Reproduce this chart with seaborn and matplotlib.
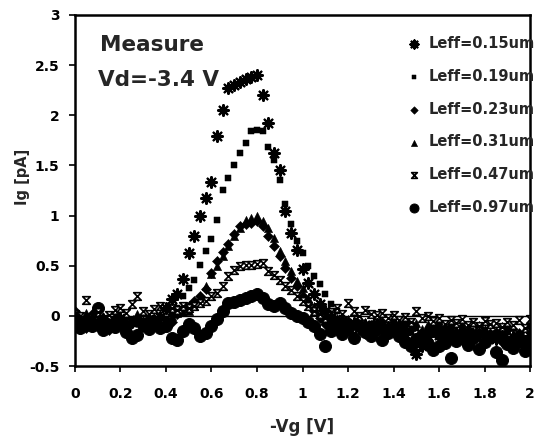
import numpy as np
import pandas as pd
import matplotlib
matplotlib.use("Agg")
import matplotlib.pyplot as plt
from matplotlib.path import Path
import seaborn as sns

# Gate voltage sweep (-Vg, V)
vg = [0.000, 0.025, 0.050, 0.075, 0.100, 0.125, 0.150, 0.175, 0.200, 0.225,
      0.250, 0.275, 0.300, 0.325, 0.350, 0.375, 0.400, 0.425, 0.450, 0.475,
      0.500, 0.525, 0.550, 0.575, 0.600, 0.625, 0.650, 0.675, 0.700, 0.725,
      0.750, 0.775, 0.800, 0.825, 0.850, 0.875, 0.900, 0.925, 0.950, 0.975,
      1.000, 1.025, 1.050, 1.075, 1.100, 1.125, 1.150, 1.175, 1.200, 1.225,
      1.250, 1.275, 1.300, 1.325, 1.350, 1.375, 1.400, 1.425, 1.450, 1.475,
      1.500, 1.525, 1.550, 1.575, 1.600, 1.625, 1.650, 1.675, 1.700, 1.725,
      1.750, 1.775, 1.800, 1.825, 1.850, 1.875, 1.900, 1.925, 1.950, 1.975,
      2.000]

# Measured gate current Ig (pA) for each effective channel length
ig_015 = [-0.02, -0.06, -0.08, -0.04, -0.07, -0.03, -0.09, -0.05, -0.02, -0.08,
          -0.06, -0.04, -0.07, -0.03, -0.05, -0.01, 0.08,
          0.17, 0.22, 0.37, 0.63, 0.80, 1.00, 1.18, 1.33, 1.79, 2.05, 2.27, 2.30,
          2.33, 2.36, 2.38, 2.40, 2.20, 1.92, 1.62, 1.45, 1.05, 0.83, 0.66, 0.47,
          0.33, 0.22, 0.12, 0.05,
          -0.02, -0.08, -0.05, -0.10, -0.07, -0.12, -0.09, -0.13, -0.08, -0.14,
          -0.11, -0.15, -0.10, -0.18, -0.28, -0.38, -0.30, -0.20, -0.15, -0.19,
          -0.14, -0.20, -0.17, -0.22, -0.16, -0.21, -0.18, -0.24, -0.19, -0.23,
          -0.20, -0.26, -0.21, -0.25, -0.30, -0.20]

ig_019 = [-0.05, -0.10, -0.04, -0.08, -0.12, -0.06, -0.03, -0.09, -0.07, -0.11,
          -0.04, -0.08, -0.06, -0.10, -0.05, -0.02, -0.07, 0.02, 0.08,
          0.20, 0.28, 0.36, 0.51, 0.65, 0.77, 0.96, 1.26, 1.37, 1.50, 1.62, 1.72,
          1.84, 1.85, 1.84, 1.68, 1.55, 1.35, 1.12, 0.92, 0.75, 0.63, 0.50, 0.40,
          0.32, 0.22, 0.12, 0.05,
          -0.02, -0.06, -0.10, -0.05, -0.11, -0.08, -0.14, -0.09, -0.12, -0.07,
          -0.13, -0.10, -0.16, -0.12, -0.18, -0.14, -0.17, -0.12, -0.20, -0.15,
          -0.18, -0.13, -0.21, -0.17, -0.19, -0.15, -0.22, -0.18, -0.20, -0.16,
          -0.23, -0.19, -0.25, -0.18]

ig_023 = [0.05, -0.08, -0.12, 0.02, -0.10, -0.06, -0.14, -0.04, -0.09, -0.13,
          -0.07, -0.02, -0.11, -0.05, -0.08, -0.12, -0.03, -0.06,
          0.02, 0.08, 0.10, 0.15, 0.20, 0.27, 0.43, 0.55, 0.64, 0.72, 0.82, 0.90,
          0.92, 0.93, 0.95, 0.90, 0.80, 0.70, 0.60, 0.48, 0.38, 0.30, 0.20, 0.12,
          0.05,
          -0.02, -0.08, -0.13, -0.05, -0.10, -0.15, -0.07, -0.12, -0.18, -0.09,
          -0.14, -0.06, -0.16, -0.11, -0.20, -0.13, -0.08, -0.22, -0.25, -0.17,
          -0.12, -0.21, -0.15, -0.10, -0.19, -0.24, -0.14, -0.20, -0.11, -0.18,
          -0.23, -0.16, -0.26, -0.13, -0.21, -0.17, -0.27, -0.10]

ig_031 = [0.00, -0.04, 0.03, -0.07, -0.02, -0.10, -0.05, 0.01, -0.08, -0.03,
          -0.06, 0.02, -0.09, -0.04, -0.01, -0.07, -0.02, 0.00, 0.03, 0.04,
          0.05, 0.10, 0.18, 0.30, 0.42, 0.50, 0.60, 0.70, 0.80, 0.88, 0.96, 0.98,
          1.00, 0.95, 0.88, 0.78, 0.65, 0.55, 0.45, 0.35, 0.28, 0.18, 0.10, 0.05,
          0.00, -0.05, -0.02, -0.08, -0.03, -0.07, -0.01, -0.06, -0.10, -0.04,
          -0.08, -0.12, -0.05, -0.09, -0.03, -0.11, -0.07, -0.13, -0.08, -0.10,
          -0.05, -0.12, -0.09, -0.14, -0.07, -0.11, -0.15, -0.09, -0.13, -0.08,
          -0.16, -0.10, -0.14, -0.11, -0.18, -0.12, -0.05]

ig_047 = [0.02, 0.00, 0.16, -0.02, 0.04, -0.03, 0.01, 0.06, 0.08, 0.03,
          0.12, 0.20, 0.05, 0.02, 0.07, 0.10, 0.04, 0.08, 0.06, 0.10,
          0.08, 0.10, 0.13, 0.15, 0.20, 0.23, 0.30, 0.40, 0.46, 0.50, 0.51, 0.51,
          0.52, 0.53, 0.45, 0.41, 0.36, 0.30, 0.26, 0.20, 0.15, 0.10, 0.05,
          0.02, -0.02, 0.04, 0.08, 0.02, 0.13, 0.05, 0.00, 0.06, 0.02,
          0.01, 0.03, -0.02, 0.01, -0.04, -0.01, -0.06, 0.05, -0.02, 0.00,
          -0.05, -0.02, -0.08, -0.04, -0.07, -0.03, -0.09, -0.06, -0.10, -0.05,
          -0.08, -0.07, -0.11, -0.06, -0.09, -0.04, -0.12, -0.03]

ig_097 = [-0.02, -0.12, -0.06, -0.10, 0.08, -0.14, -0.08, -0.11, -0.05, -0.16,
          -0.22, -0.19, -0.09, -0.13, -0.07, -0.12, -0.10, -0.22, -0.24, -0.15,
          -0.08, -0.12, -0.20, -0.17, -0.10, -0.03, 0.05, 0.13, 0.14, 0.16, 0.18,
          0.20, 0.22, 0.18, 0.12, 0.10, 0.13, 0.08, 0.03, 0.00, -0.02, -0.06,
          -0.10, -0.18, -0.30,
          -0.15, -0.08, -0.18, -0.12, -0.22, -0.10, -0.16, -0.20, -0.13, -0.24,
          -0.17, -0.11, -0.20, -0.26, -0.30, -0.23, -0.19, -0.28, -0.34, -0.30,
          -0.27, -0.42, -0.25, -0.18, -0.29, -0.22, -0.33, -0.26, -0.20, -0.36,
          -0.44, -0.28, -0.32, -0.22, -0.35, -0.25]

labels = ["Leff=0.15um", "Leff=0.19um", "Leff=0.23um",
          "Leff=0.31um", "Leff=0.47um", "Leff=0.97um"]
series = [ig_015, ig_019, ig_023, ig_031, ig_047, ig_097]

frames = [pd.DataFrame({"Vg": vg, "Ig": s, "Leff": lab})
          for s, lab in zip(series, labels)]
df = pd.concat(frames, ignore_index=True)

sns.set_theme(style="ticks")
plt.rcParams["font.family"] = ["DejaVu Sans"]
plt.rcParams["font.weight"] = "bold"
plt.rcParams["axes.unicode_minus"] = False

# hourglass marker
hourglass = Path([(-1, 1), (1, 1), (-1, -1), (1, -1), (-1, 1)],
                 [Path.MOVETO, Path.LINETO, Path.LINETO, Path.LINETO, Path.CLOSEPOLY])

styles = {
    "Leff=0.15um": dict(marker=(8, 2, 0), s=60, linewidth=1.6, zorder=2.6),
    "Leff=0.19um": dict(marker="s", s=20, zorder=2.4),
    "Leff=0.23um": dict(marker="D", s=26, zorder=2.3),
    "Leff=0.31um": dict(marker="^", s=34, zorder=2.2),
    "Leff=0.47um": dict(marker=hourglass, s=30, linewidth=1.2,
                        facecolor="white", zorder=2.5),
    "Leff=0.97um": dict(marker="o", s=75, zorder=2.1),
}

fig = plt.figure(figsize=(5.5, 4.41), dpi=100)
ax = fig.add_axes([0.136, 0.170, 0.828, 0.796])

ax.axhline(0, color="black", lw=1.0, zorder=1)

for lab in labels:
    kw = dict(styles[lab])
    sub = df[df["Leff"] == lab]
    sns.scatterplot(data=sub, x="Vg", y="Ig", ax=ax, color="black",
                    edgecolor="black", label=lab, legend=True, **kw)

ax.set_xlim(0, 2)
ax.set_ylim(-0.5, 3)
ax.set_xticks([0, 0.2, 0.4, 0.6, 0.8, 1.0, 1.2, 1.4, 1.6, 1.8, 2.0])
ax.set_yticks([-0.5, 0, 0.5, 1, 1.5, 2, 2.5, 3])
ax.xaxis.set_major_formatter(plt.FuncFormatter(lambda v, p: f"{v:g}"))
ax.yaxis.set_major_formatter(plt.FuncFormatter(lambda v, p: f"{v:g}"))
ax.tick_params(axis="both", direction="out", length=4, width=1.2,
               labelsize=10, colors="black")
ax.tick_params(axis="x", pad=11)
ax.tick_params(axis="y", pad=7)
for lbl in ax.get_xticklabels() + ax.get_yticklabels():
    lbl.set_fontweight("bold")
for sp in ax.spines.values():
    sp.set_visible(True)
    sp.set_linewidth(1.8)
    sp.set_color("black")

ax.set_xlabel("-Vg [V]", fontsize=12, fontweight="bold")
ax.set_ylabel("Ig [pA]", fontsize=10.5, fontweight="bold")
ax.yaxis.set_label_coords(-0.098, 0.54)
ax.xaxis.set_label_coords(0.5, -0.148)

ax.text(0.11, 2.70, "Measure", fontsize=15.5, fontweight="bold",
        va="center", ha="left")
ax.text(0.10, 2.35, "Vd=-3.4 V", fontsize=15.5, fontweight="bold",
        va="center", ha="left")

handles, lbls = ax.get_legend_handles_labels()
leg = ax.legend(handles, lbls, loc="upper right", bbox_to_anchor=(1.03, 0.965),
                frameon=False, prop={"weight": "bold", "size": 10.5},
                labelspacing=1.22, handletextpad=0.4, handlelength=1.2,
                borderaxespad=0.2, markerscale=0.75)

fig.savefig("out.png", dpi=100)
